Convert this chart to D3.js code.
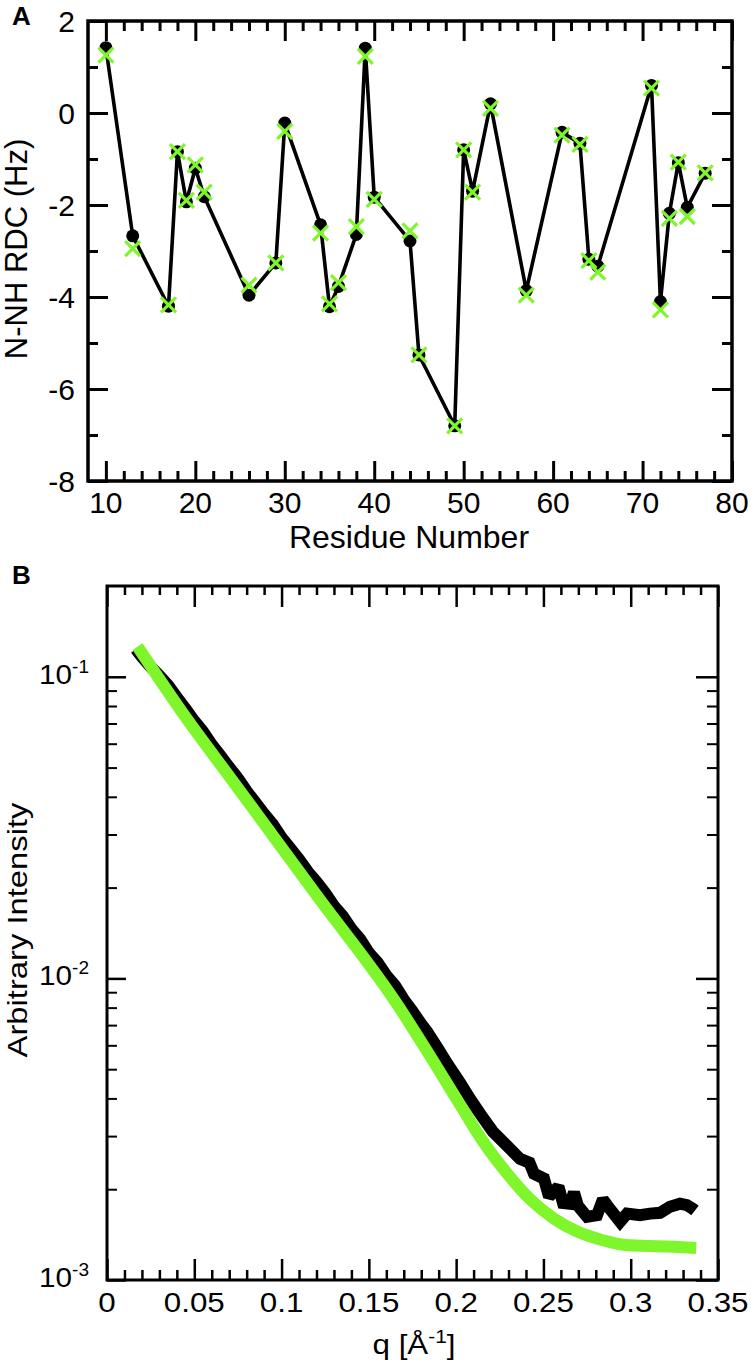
<!DOCTYPE html>
<html>
<head>
<meta charset="utf-8">
<script src="https://cdn.jsdelivr.net/npm/d3@7"></script>
<style>
  body { margin: 0; background: #fff; }
  text { font-family: "Liberation Sans", Arial, sans-serif; fill: #000; }
</style>
</head>
<body>
<div id="chart"></div>
<script>
// Panel A: N-NH residual dipolar couplings per residue
const residues = [10, 13, 17, 18, 19, 20, 21, 26, 29, 30, 34, 35, 36, 38, 39, 40, 44, 45, 49, 50, 51, 53, 57, 61, 63, 64, 65, 71, 72, 73, 74, 75, 77];
const rdcExp = [1.42, -2.67, -4.2, -0.84, -1.93, -1.2, -1.82, -3.96, -3.26, -0.22, -2.43, -4.21, -3.77, -2.64, 1.41, -1.83, -2.78, -5.26, -6.8, -0.8, -1.7, 0.2, -3.86, -0.42, -0.66, -3.18, -3.33, 0.6, -4.1, -2.18, -1.08, -2.05, -1.31];
const rdcCalc = [1.26, -2.95, -4.17, -0.84, -1.9, -1.13, -1.72, -3.74, -3.26, -0.4, -2.61, -4.15, -3.69, -2.47, 1.23, -1.88, -2.56, -5.26, -6.8, -0.8, -1.72, 0.1, -3.96, -0.48, -0.68, -3.21, -3.46, 0.54, -4.28, -2.29, -1.07, -2.25, -1.3];
const xTicksA = [10, 20, 30, 40, 50, 60, 70, 80];
const yTicksA = [-8, -6, -4, -2, 0, 2];

// Panel B: SAXS profile, measured (black) and back-calculated (green)
const qData = [0.0165, 0.02, 0.025, 0.03, 0.035, 0.04, 0.045, 0.05, 0.055, 0.06, 0.065, 0.07, 0.075, 0.08, 0.085, 0.09, 0.095, 0.1, 0.105, 0.11, 0.115, 0.12, 0.125, 0.13, 0.135, 0.14, 0.145, 0.15, 0.155, 0.16, 0.165, 0.17, 0.175, 0.18, 0.1833, 0.1893, 0.1953, 0.2016, 0.2079, 0.2145, 0.2211, 0.229, 0.2366, 0.242, 0.2446, 0.2503, 0.2532, 0.2586, 0.2612, 0.2652, 0.2675, 0.2698, 0.275, 0.2807, 0.2841, 0.2881, 0.2939, 0.2979, 0.3053, 0.311, 0.3168, 0.3225, 0.3282, 0.3322, 0.3357, 0.3368];
const iData = [0.1236, 0.1164, 0.1079, 0.1009, 0.0938, 0.0855, 0.0783, 0.0714, 0.0658, 0.0596, 0.0548, 0.0501, 0.0461, 0.0418, 0.0383, 0.0351, 0.0324, 0.0293, 0.027, 0.0248, 0.0226, 0.0209, 0.0192, 0.0174, 0.0161, 0.0146, 0.0135, 0.01216, 0.0113, 0.01023, 0.00946, 0.00851, 0.00778, 0.00706, 0.00667, 0.00589, 0.00518, 0.00457, 0.00399, 0.00351, 0.0031, 0.00279, 0.00252, 0.00245, 0.00225, 0.00217, 0.00189, 0.00204, 0.0018, 0.00179, 0.00195, 0.00176, 0.00162, 0.00164, 0.00185, 0.00172, 0.00156, 0.00166, 0.00164, 0.00166, 0.00167, 0.00175, 0.00179, 0.00177, 0.00172, 0.0017];
const qFit = [0.0175, 0.0458, 0.07, 0.094, 0.12, 0.1667, 0.181, 0.2034, 0.2142, 0.2283, 0.2421, 0.2559, 0.2697, 0.2835, 0.2973, 0.311, 0.3248, 0.3375];
const iFit = [0.1259, 0.0724, 0.0468, 0.0303, 0.0189, 0.00813, 0.00603, 0.00372, 0.00295, 0.00229, 0.00186, 0.0016, 0.001445, 0.001358, 0.001306, 0.001297, 0.001288, 0.001276];
const xTicksB = [0, 0.05, 0.1, 0.15, 0.2, 0.25, 0.3, 0.35];
const xTickLabelsB = ["0", "0.05", "0.1", "0.15", "0.2", "0.25", "0.3", "0.35"];
const yTicksB = [0.001, 0.01, 0.1];
const yExpLabelsB = ["-3", "-2", "-1"];

const green = "#7ff52c";
const w = 751;
const h = 1365;

const svg = d3.select("#chart").append("svg")
  .attr("width", w)
  .attr("height", h)
  .style("display", "block")
  .style("background", "#fff");

// helper: inward ticks, no domain line
function ticks(axisFn, scale, values, size, width, pos, isX) {
  const g = svg.append("g")
    .attr("transform", isX ? `translate(0,${pos})` : `translate(${pos},0)`)
    .call(axisFn(scale).tickValues(values).tickSize(-size).tickFormat(""));
  g.select(".domain").remove();
  g.selectAll("line").attr("stroke", "#000").attr("stroke-width", width);
  return g;
}

// ---------- Panel A ----------
const xA = d3.scaleLinear().domain([8, 80]).range([88, 732]);
const yA = d3.scaleLinear().domain([-8, 2]).range([481, 21]);
const minorXA = d3.range(10, 80, 2).filter(v => v % 10 !== 0);
const minorYA = d3.range(-7, 2, 2);

ticks(d3.axisBottom, xA, xTicksA, 20, 3, 481, true);
ticks(d3.axisBottom, xA, minorXA, 10, 3, 481, true);
ticks(d3.axisTop, xA, xTicksA, 20, 3, 21, true);
ticks(d3.axisTop, xA, minorXA, 10, 3, 21, true);
ticks(d3.axisLeft, yA, yTicksA, 20, 3, 88, false);
ticks(d3.axisLeft, yA, minorYA, 10, 3, 88, false);
ticks(d3.axisRight, yA, yTicksA, 20, 3, 732, false);
ticks(d3.axisRight, yA, minorYA, 10, 3, 732, false);

svg.append("rect")
  .attr("x", 88).attr("y", 21).attr("width", 732 - 88).attr("height", 481 - 21)
  .attr("fill", "none").attr("stroke", "#000").attr("stroke-width", 3.5);

svg.selectAll(".xlabA").data(xTicksA).enter().append("text")
  .attr("x", d => xA(d)).attr("y", 513)
  .attr("text-anchor", "middle").attr("font-size", 30)
  .text(d => d);

svg.selectAll(".ylabA").data(yTicksA).enter().append("text")
  .attr("x", 75).attr("y", d => yA(d) + 10.5)
  .attr("text-anchor", "end").attr("font-size", 30)
  .text(d => d);

svg.append("text")
  .attr("x", 409).attr("y", 548)
  .attr("text-anchor", "middle").attr("font-size", 32)
  .text("Residue Number");

svg.append("text")
  .attr("transform", "translate(27,249) rotate(-90)")
  .attr("text-anchor", "middle").attr("font-size", 31)
  .text("N-NH RDC (Hz)");

svg.append("text")
  .attr("x", 12).attr("y", 25)
  .attr("font-size", 26).attr("font-weight", "bold")
  .text("A");

const lineA = d3.line().x(d => xA(d[0])).y(d => yA(d[1]));
const expPts = residues.map((r, i) => [r, rdcExp[i]]);
const calcPts = residues.map((r, i) => [r, rdcCalc[i]]);

svg.append("path")
  .attr("d", lineA(expPts))
  .attr("fill", "none").attr("stroke", "#000").attr("stroke-width", 3.6)
  .attr("stroke-linejoin", "round");

svg.selectAll(".dotA").data(expPts).enter().append("circle")
  .attr("cx", d => xA(d[0])).attr("cy", d => yA(d[1]))
  .attr("r", 6.5).attr("fill", "#000");

const cross = svg.selectAll(".crossA").data(calcPts).enter().append("g")
  .attr("transform", d => `translate(${xA(d[0])},${yA(d[1])})`);
cross.append("line").attr("x1", -7.5).attr("y1", -7.5).attr("x2", 7.5).attr("y2", 7.5);
cross.append("line").attr("x1", -7.5).attr("y1", 7.5).attr("x2", 7.5).attr("y2", -7.5);
cross.selectAll("line").attr("stroke", green).attr("stroke-width", 3.2);

// ---------- Panel B ----------
const xB = d3.scaleLinear().domain([0, 0.35]).range([107, 718]);
const yB = d3.scaleLog().domain([0.001, 0.2]).range([1280, 586]);
const minorXB = d3.range(1, 35).filter(v => v % 5 !== 0).map(v => v / 100);
const minorYB = [];
[0.001, 0.01, 0.1].forEach(dec => {
  for (let k = 2; k <= 9; k++) if (dec * k < 0.2) minorYB.push(dec * k);
});

ticks(d3.axisBottom, xB, xTicksB, 21, 2.5, 1280, true);
ticks(d3.axisBottom, xB, minorXB, 10, 2.5, 1280, true);
ticks(d3.axisTop, xB, xTicksB, 21, 2.5, 586, true);
ticks(d3.axisTop, xB, minorXB, 9, 2.5, 586, true);
ticks(d3.axisLeft, yB, yTicksB, 19, 2.5, 107, false);
ticks(d3.axisLeft, yB, minorYB, 10, 2, 107, false);
ticks(d3.axisRight, yB, yTicksB, 22, 2.5, 718, false);
ticks(d3.axisRight, yB, minorYB, 11, 2, 718, false);

svg.append("rect")
  .attr("x", 107).attr("y", 586).attr("width", 718 - 107).attr("height", 1280 - 586)
  .attr("fill", "none").attr("stroke", "#000").attr("stroke-width", 3);

// panel B lettering is a little wider than it is tall
svg.selectAll(".xlabB").data(xTicksB).enter().append("text")
  .attr("transform", d => `translate(${xB(d)},1312) scale(1.16,1)`)
  .attr("text-anchor", "middle").attr("font-size", 27)
  .text((d, i) => xTickLabelsB[i]);

const ylabB = svg.selectAll(".ylabB").data(yTicksB).enter().append("text")
  .attr("transform", d => `translate(89,${yB(d) + 7}) scale(1.06,1)`)
  .attr("text-anchor", "end").attr("font-size", 28);
ylabB.append("tspan").text("10");
ylabB.append("tspan").attr("dy", -11).attr("font-size", 18).text((d, i) => yExpLabelsB[i]);

const qLabel = svg.append("text")
  .attr("transform", "translate(414,1354) scale(1.16,1)")
  .attr("text-anchor", "middle").attr("font-size", 27);
qLabel.append("tspan").text("q [Å");
qLabel.append("tspan").attr("dy", -11).attr("font-size", 18).text("-1");
qLabel.append("tspan").attr("dy", 11).text("]");

svg.append("text")
  .attr("transform", "translate(27,930) rotate(-90) scale(1.17,1)")
  .attr("text-anchor", "middle").attr("font-size", 28)
  .text("Arbitrary Intensity");

svg.append("text")
  .attr("x", 12).attr("y", 584)
  .attr("font-size", 26).attr("font-weight", "bold")
  .text("B");

const lineB = d3.line().x(d => xB(d[0])).y(d => yB(d[1]));

svg.append("path")
  .attr("d", lineB(qData.map((q, i) => [q, iData[i]])))
  .attr("fill", "none").attr("stroke", "#000").attr("stroke-width", 12)
  .attr("stroke-linejoin", "miter").attr("stroke-miterlimit", 2);

svg.append("path")
  .attr("d", lineB.curve(d3.curveMonotoneX)(qFit.map((q, i) => [q, iFit[i]])))
  .attr("fill", "none").attr("stroke", green).attr("stroke-width", 12);
</script>
</body>
</html>
